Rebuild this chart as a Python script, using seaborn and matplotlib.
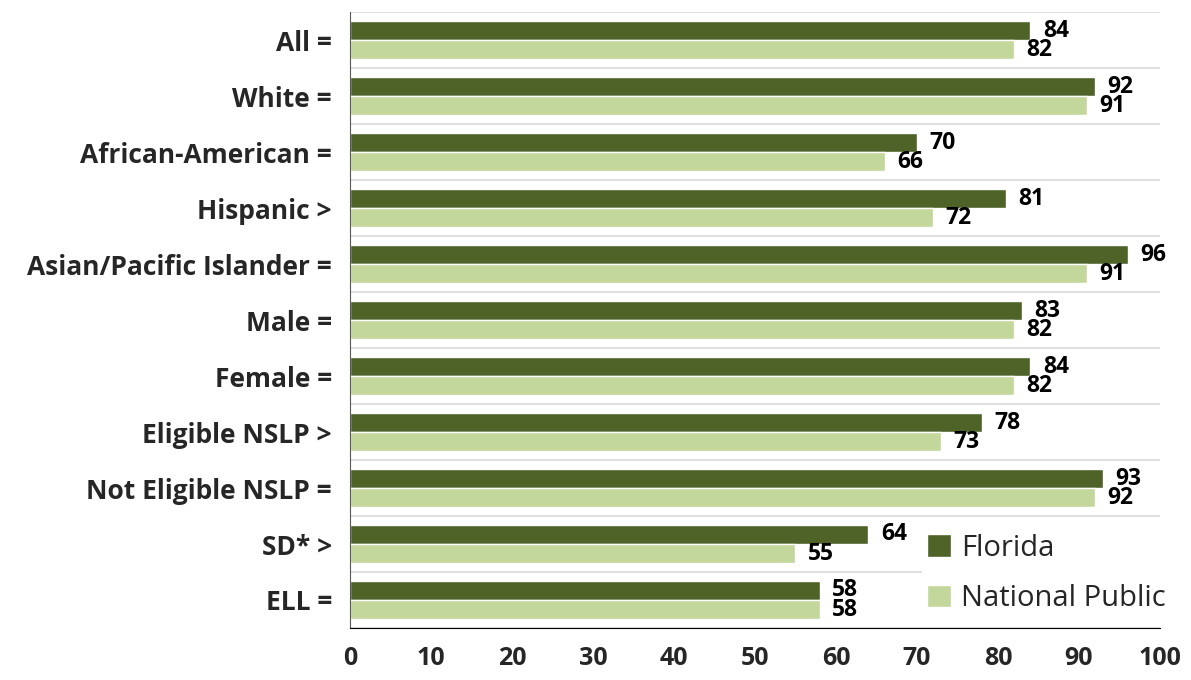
import numpy as np
import pandas as pd
import matplotlib
matplotlib.use("Agg")
import matplotlib.pyplot as plt
import seaborn as sns

# Chart data
categories = ['All =', 'White =', 'African-American =', 'Hispanic >',
              'Asian/Pacific Islander =', 'Male =', 'Female =', 'Eligible NSLP >',
              'Not Eligible NSLP =', 'SD* >', 'ELL =']
florida = [84, 92, 70, 81, 96, 83, 84, 78, 93, 64, 58]
national = [82, 91, 66, 72, 91, 82, 82, 73, 92, 55, 58]
series_names = ['Florida', 'National Public']
x_ticks = list(range(0, 101, 10))

FL_COLOR = '#4F6228'
NP_COLOR = '#C3D69B'

df = pd.DataFrame({
    'group': categories * 2,
    'score': florida + national,
    'series': [series_names[0]] * len(categories) + [series_names[1]] * len(categories),
})

sns.set_style('white')
plt.rcParams['font.family'] = ['Open Sans', 'DejaVu Sans']

fig = plt.figure(figsize=(11.91, 6.80), dpi=100)
ax = fig.add_axes([0.2939, 0.0765, 0.680, 0.9055])

sns.barplot(data=df, x='score', y='group', hue='series', orient='h',
            palette=[FL_COLOR, NP_COLOR], width=0.68, saturation=1,
            order=categories, hue_order=series_names, ax=ax)

# value labels
for cont in ax.containers:
    ax.bar_label(cont, fmt='%d', padding=9, fontsize=16.5, fontweight='bold', color='black')

ax.set_xlim(0, 100)
ax.set_ylim(len(categories) - 0.5, -0.5)
ax.set_xticks(x_ticks)
ax.set_xticklabels([str(t) for t in x_ticks], fontsize=18, fontweight='bold')
ax.set_yticks(range(len(categories)))
ax.set_yticklabels(categories, fontsize=19, fontweight='bold')
ax.set_xlabel('')
ax.set_ylabel('')

# separators between categories
ax.set_yticks(np.arange(-0.5, len(categories), 1), minor=True)
ax.tick_params(axis='y', which='major', length=0, pad=13)
ax.tick_params(axis='y', which='minor', length=7, width=1, color='#595959', direction='out')
ax.tick_params(axis='x', which='major', length=7, width=1, color='#595959', direction='out', pad=6)
ax.grid(False)
ax.grid(True, axis='y', which='minor', color='#D9D9D9', linewidth=1.2)
ax.set_axisbelow(True)

for side in ['top', 'right']:
    ax.spines[side].set_visible(False)
ax.spines['left'].set_color('#595959')
ax.spines['bottom'].set_color('black')

leg = ax.legend(loc='lower left', bbox_to_anchor=(0.695, 0.0), frameon=True,
                fontsize=21, handlelength=0.8, handleheight=0.8, handletextpad=0.35,
                labelspacing=0.75, borderaxespad=0.3, borderpad=0.2)
leg.get_frame().set_edgecolor('none')
leg.get_frame().set_facecolor('white')
leg.get_frame().set_alpha(1)

fig.savefig('out.png', dpi=100)
